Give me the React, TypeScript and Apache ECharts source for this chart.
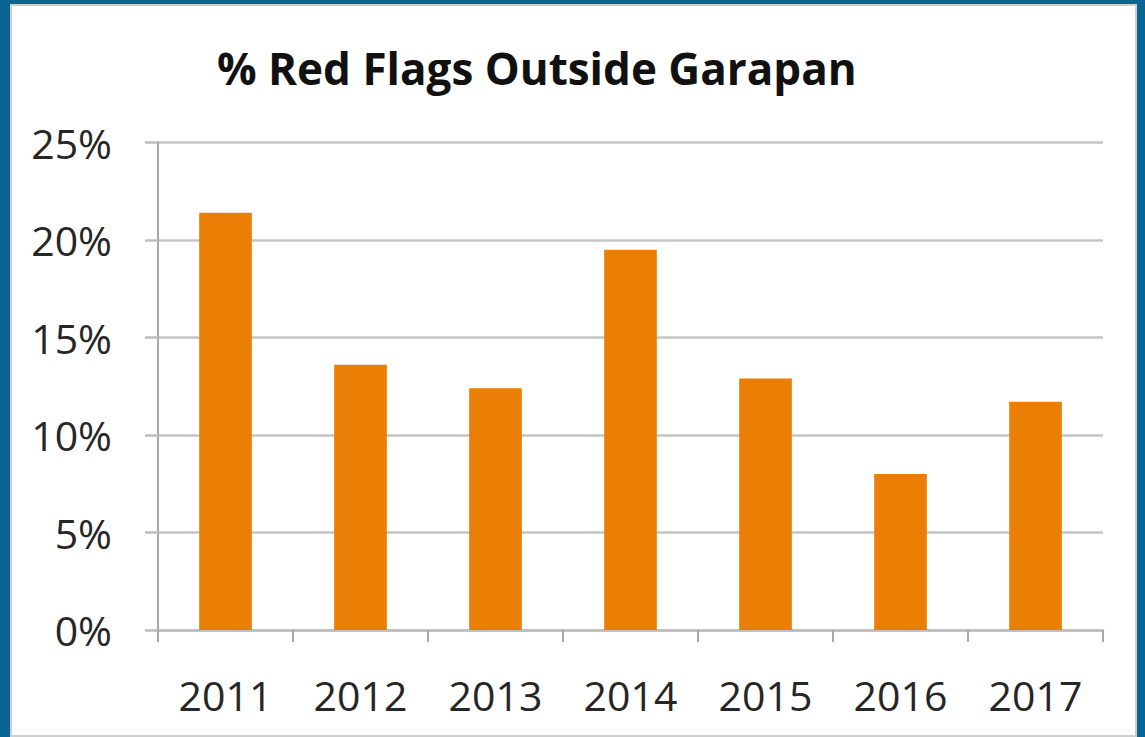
import React, { useEffect, useRef } from "react";
import * as echarts from "echarts";

const title = "% Red Flags Outside Garapan";
const years = ["2011", "2012", "2013", "2014", "2015", "2016", "2017"];
const redFlagPct = [21.4, 13.6, 12.4, 19.5, 12.9, 8.0, 11.7];
const yTicks = { min: 0, max: 25, interval: 5 };

export default function App() {
  const ref = useRef<HTMLDivElement>(null);
  useEffect(() => {
    document.body.style.margin = "0";
    const chart = echarts.init(ref.current!, null, { renderer: "svg" });
    const font = "'Open Sans', 'Noto Sans', sans-serif";
    chart.setOption({
      animation: false,
      backgroundColor: "#0a6592",
      graphic: [
        {
          type: "rect",
          shape: { x: 11, y: 5, width: 1125, height: 731 },
          style: { fill: "#ffffff", stroke: "#cfcfcf", lineWidth: 2 },
          z: -10,
        },
      ],
      title: {
        text: title,
        left: 212,
        top: 41,
        textStyle: {
          fontFamily: font,
          fontWeight: "bold",
          fontSize: 44,
          color: "#111111",
        },
      },
      grid: { left: 158, right: 42, top: 142.5, bottom: 107 },
      xAxis: {
        type: "category",
        data: years,
        boundaryGap: true,
        axisLine: { lineStyle: { color: "#bdbdbd", width: 2.5 } },
        axisTick: { show: true, length: 12, lineStyle: { color: "#a8a8a8", width: 2 } },
        axisLabel: {
          fontFamily: font,
          fontSize: 41,
          color: "#262626",
          margin: 44,
        },
      },
      yAxis: {
        type: "value",
        min: yTicks.min,
        max: yTicks.max,
        interval: yTicks.interval,
        axisLine: { show: true, lineStyle: { color: "#a8a8a8", width: 2 } },
        axisTick: { show: true, length: 13, lineStyle: { color: "#bdbdbd", width: 2.5 } },
        splitLine: { show: true, lineStyle: { color: "#c4c4c4", width: 2.5 } },
        axisLabel: {
          formatter: "{value}%",
          fontFamily: font,
          fontSize: 41,
          color: "#262626",
          margin: 46,
          padding: [8, 0, 0, 0],
        },
      },
      series: [
        {
          type: "bar",
          data: redFlagPct,
          barWidth: "39%",
          itemStyle: { color: "#eb7f05" },
        },
      ],
    });
    return () => chart.dispose();
  }, []);
  return <div ref={ref} style={{ width: 1145, height: 737 }} />;
}
